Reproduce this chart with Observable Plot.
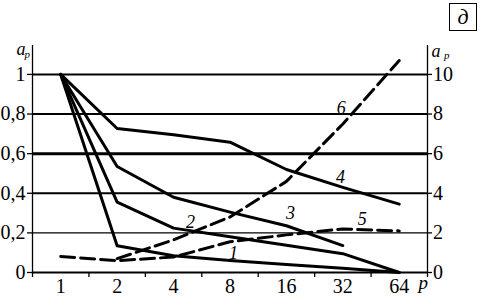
<!DOCTYPE html>
<html>
<head>
<meta charset="utf-8">
<script src="https://cdn.jsdelivr.net/npm/d3@7"></script>
<script src="https://cdn.jsdelivr.net/npm/@observablehq/plot@0.6"></script>
<style>
  html, body { margin: 0; padding: 0; background: #fff; }
  #wrap { position: relative; width: 482px; height: 296px; }
  #wrap svg, #wrap svg g, #wrap svg text { font-family: "Liberation Serif", "Times New Roman", serif !important; }
  #wrap svg { color: #000; background: #fff; }
  #panel { position: absolute; left: 449px; top: 3px; width: 26px; height: 26px;
    border: 1.2px solid #000; font: italic 22px "Liberation Serif", serif;
    display: flex; align-items: center; justify-content: center; line-height: 1; }
</style>
</head>
<body>
<div id="wrap"><div id="panel">д</div></div>
<script>
// categories (processor counts p), log2-spaced on the x axis
const pValues = [1, 2, 4, 8, 16, 32, 64];
const pLabels = ["1", "2", "4", "8", "16", "32", "64"];

// left axis series (a_p, 0..1)
const line1 = [1, 0.135, 0.085, 0.06, 0.04, 0.022, 0];
const line2 = [1, 0.355, 0.224, 0.18, 0.138, 0.095, 0];
const line3 = [1, 0.535, 0.38, 0.305, 0.236, 0.136, null];
const line4 = [1, 0.727, 0.695, 0.658, 0.52, 0.43, 0.345];
// right axis series (a_p, 0..10)
const line5 = [0.81, 0.6, 0.78, 1.55, 1.9, 2.2, 2.1];
const line6 = [null, 0.7, 1.65, 2.8, 4.6, 7.5, 10.7];

// tick labels
const leftTicks = [0, 0.2, 0.4, 0.6, 0.8, 1];
const leftTickLabels = ["0", "0,2", "0,4", "0,6", "0,8", "1"];
const rightTicks = [0, 2, 4, 6, 8, 10];
const rightTickLabels = ["0", "2", "4", "6", "8", "10"];

// curve labels and their anchor points (p, a on left-axis units)
const curveNames = ["1", "2", "3", "4", "5", "6"];
const labelP = [8.35, 4.93, 16.8, 31.1, 40.6, 31.4];
const labelA = [0.096, 0.254, 0.298, 0.481, 0.271, 0.827];

const rightFactor = 10; // 10 on right axis == 1 on left axis

const rows = [];
[[line1, "1", false], [line2, "2", false], [line3, "3", false], [line4, "4", false],
 [line5, "5", true], [line6, "6", true]].forEach(([arr, s, right]) => {
  arr.forEach((v, i) => {
    if (v == null) return;
    rows.push({p: pValues[i], a: right ? v / rightFactor : v, s, dashed: right});
  });
});
const labels = curveNames.map((t, i) => ({t, p: labelP[i], a: labelA[i]}));

const bounds = [pValues[0] / Math.SQRT2, ...pValues.map(p => p * Math.SQRT2)];

const chart = Plot.plot({
  width: 482,
  height: 296,
  marginLeft: 32,
  marginRight: 55,
  marginTop: 45,
  marginBottom: 24,
  style: "font-family: 'Liberation Serif', 'Times New Roman', serif; font-size: 20px; color: #000; background: #fff;",
  x: {type: "log", base: 2, domain: [bounds[0], bounds[bounds.length - 1]]},
  y: {domain: [0, 1.146]},
  marks: [
    Plot.ruleY([0.2], {strokeWidth: 1.3}),
    Plot.ruleY([0.4, 0.8, 1], {strokeWidth: 2}),
    Plot.ruleY([0.6], {strokeWidth: 3}),
    Plot.ruleY([0], {strokeWidth: 2}),
    Plot.ruleX([bounds[0], bounds[bounds.length - 1]], {strokeWidth: 1.3}),
    Plot.axisY({ticks: leftTicks, tickFormat: d => leftTickLabels[leftTicks.indexOf(d)],
      tickSize: 5, tickPadding: 2, label: null, strokeWidth: 1.3, fontSize: 20}),
    Plot.axisY({anchor: "right", ticks: rightTicks.map(v => v / rightFactor),
      tickFormat: d => rightTickLabels[rightTicks.indexOf(Math.round(d * rightFactor))],
      tickSize: 4, tickPadding: 1.5, label: null, strokeWidth: 1.3, fontSize: 20}),
    Plot.axisX({ticks: bounds, tickFormat: () => "", tickSize: 5, label: null, strokeWidth: 1.3}),
    Plot.axisX({ticks: pValues, tickFormat: d => pLabels[pValues.indexOf(d)],
      tickSize: 0, tickPadding: 6, label: null, fontSize: 20}),
    Plot.line(rows.filter(d => !d.dashed), {x: "p", y: "a", z: "s", stroke: "#000", strokeWidth: 3,
      strokeLinejoin: "round"}),
    Plot.line(rows.filter(d => d.dashed), {x: "p", y: "a", z: "s", stroke: "#000", strokeWidth: 3,
      strokeDasharray: "14,6", strokeLinejoin: "round"}),
    Plot.text(labels, {x: "p", y: "a", text: "t", fontStyle: "italic", fontSize: 18,
      textAnchor: "middle", lineAnchor: "middle", fill: "#000"}),
    // axis titles a_p
    Plot.text(["a"], {frameAnchor: "top-left", dx: -16, dy: 4, fontStyle: "italic", fontSize: 18, lineAnchor: "middle"}),
    Plot.text(["p"], {frameAnchor: "top-left", dx: -8, dy: 8.5, fontStyle: "italic", fontSize: 11, lineAnchor: "middle"}),
    Plot.text(["a"], {frameAnchor: "top-right", dx: 13, dy: 6, fontStyle: "italic", fontSize: 18, lineAnchor: "middle"}),
    Plot.text(["p"], {frameAnchor: "top-right", dx: 22, dy: 10, fontStyle: "italic", fontSize: 11, lineAnchor: "middle"}),
    Plot.text(["p"], {frameAnchor: "bottom-right", dx: 0.5, dy: 10, fontStyle: "italic", fontSize: 19, lineAnchor: "middle"})
  ]
});
document.getElementById("wrap").prepend(chart);
</script>
</body>
</html>
